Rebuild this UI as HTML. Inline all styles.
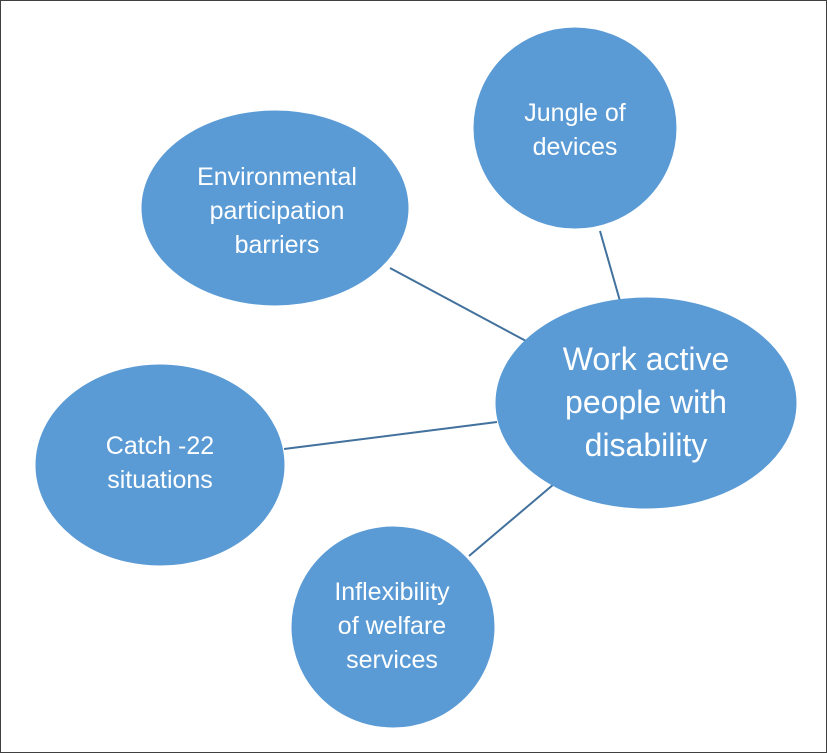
<!DOCTYPE html>
<html><head><meta charset="utf-8"><style>
html,body{margin:0;padding:0;background:#fff;}
svg{display:block;}
text{font-family:"Liberation Sans",sans-serif;fill:#fff;}
</style></head><body>
<svg width="827" height="753" viewBox="0 0 827 753" xmlns="http://www.w3.org/2000/svg">
<rect x="0.5" y="0.5" width="826" height="752" fill="#fff" stroke="#404040" stroke-width="1"/>
<g stroke="#41719c" stroke-width="2">
<line x1="600" y1="231" x2="620" y2="301"/>
<line x1="390" y1="268" x2="526" y2="341"/>
<line x1="284" y1="449" x2="497" y2="422"/>
<line x1="469" y1="556" x2="554" y2="484"/>
</g>
<g fill="#5b9bd5" stroke="#5b9bd5" stroke-width="1">
<ellipse cx="575" cy="128" rx="101" ry="100"/>
<ellipse cx="275" cy="208" rx="133" ry="97"/>
<ellipse cx="646" cy="403" rx="150" ry="105"/>
<ellipse cx="160" cy="465" rx="124" ry="100"/>
<ellipse cx="393" cy="627" rx="101" ry="100"/>
</g>
<g text-anchor="middle" font-size="25">
<text x="575" y="121">Jungle of</text>
<text x="575" y="155">devices</text>
<text x="277" y="185">Environmental</text>
<text x="277" y="219">participation</text>
<text x="277" y="253">barriers</text>
<text x="160" y="454">Catch -22</text>
<text x="160" y="488">situations</text>
<text x="392" y="600">Inflexibility</text>
<text x="392" y="634">of welfare</text>
<text x="392" y="668">services</text>
</g>
<g text-anchor="middle" font-size="32">
<text x="646" y="370">Work active</text>
<text x="646" y="413">people  with</text>
<text x="646" y="456">disability</text>
</g>
</svg>
</body></html>
